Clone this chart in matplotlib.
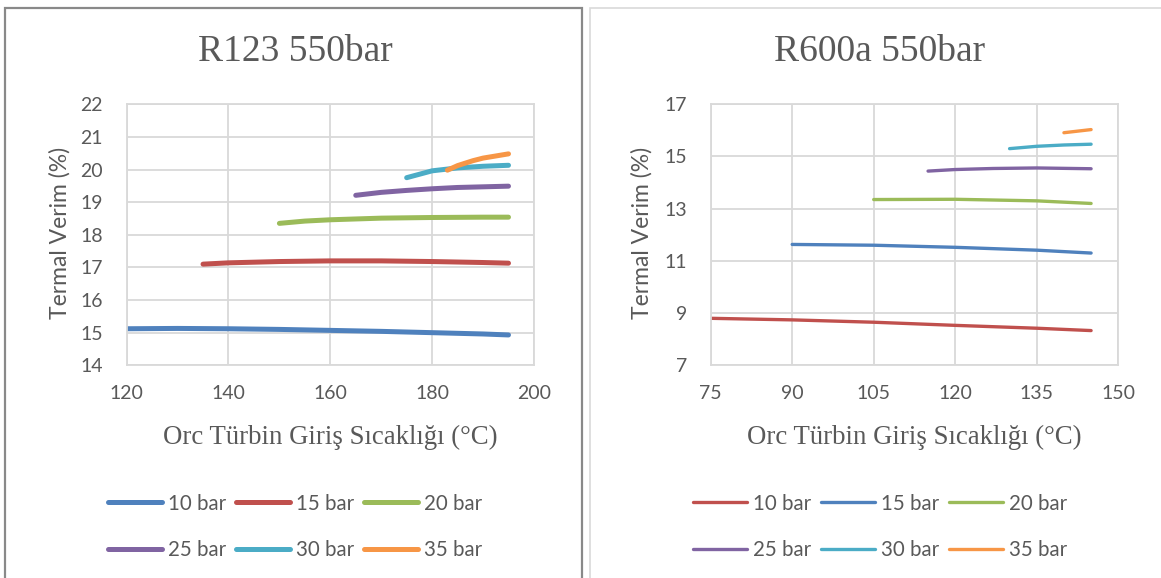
import matplotlib
matplotlib.use("Agg")
import matplotlib.pyplot as plt
from matplotlib.patches import Rectangle

# R123 550bar (left)
r123_t10 = [120, 130, 140, 150, 160, 170, 180, 190, 195]
r123_e10 = [15.12, 15.13, 15.12, 15.10, 15.07, 15.04, 15.00, 14.96, 14.93]
r123_t15 = [135, 140, 150, 160, 170, 180, 190, 195]
r123_e15 = [17.10, 17.14, 17.18, 17.20, 17.20, 17.18, 17.15, 17.13]
r123_t20 = [150, 155, 160, 170, 180, 190, 195]
r123_e20 = [18.35, 18.42, 18.46, 18.51, 18.53, 18.54, 18.54]
r123_t25 = [165, 170, 175, 180, 185, 190, 195]
r123_e25 = [19.21, 19.30, 19.36, 19.41, 19.45, 19.47, 19.49]
r123_t30 = [175, 180, 185, 190, 195]
r123_e30 = [19.75, 19.96, 20.05, 20.10, 20.13]
r123_t35 = [183, 185, 188, 190, 195]
r123_e35 = [19.98, 20.12, 20.27, 20.35, 20.48]

# R600a 550bar (right)
r600_t10 = [75, 90, 105, 120, 135, 145]
r600_e10 = [8.80, 8.74, 8.65, 8.53, 8.42, 8.33]
r600_t15 = [90, 105, 120, 135, 145]
r600_e15 = [11.63, 11.60, 11.52, 11.41, 11.30]
r600_t20 = [105, 120, 135, 145]
r600_e20 = [13.35, 13.36, 13.30, 13.20]
r600_t25 = [115, 120, 127, 135, 145]
r600_e25 = [14.44, 14.50, 14.54, 14.56, 14.53]
r600_t30 = [130, 135, 140, 145]
r600_e30 = [15.30, 15.39, 15.44, 15.47]
r600_t35 = [140, 145]
r600_e35 = [15.91, 16.03]

labels = ["10 bar", "15 bar", "20 bar", "25 bar", "30 bar", "35 bar"]

BLUE, RED, GREEN = "#4F81BD", "#C0504D", "#9BBB59"
PURPLE, CYAN, ORANGE = "#8064A2", "#4BACC6", "#F79646"
GRID = "#D9D9D9"
TXT = "#595959"

SANS = ["Lato", "DejaVu Sans"]
SERIF = ["Liberation Serif", "DejaVu Serif"]

fig = plt.figure(figsize=(11.61, 5.78), dpi=100)

# panel frames
fig.patches.append(Rectangle((5 / 1161, -0.05), 577 / 1161, 1 - 8 / 578 + 0.05,
                             transform=fig.transFigure, fill=False,
                             edgecolor="#898989", lw=1.6))
fig.patches.append(Rectangle((590 / 1161, -0.05), 0.5, 1 - 8 / 578 + 0.05,
                             transform=fig.transFigure, fill=False,
                             edgecolor=GRID, lw=1.2))


def setup(ax, xlim, xticks, ylim, yticks):
    ax.set_xlim(*xlim)
    ax.set_ylim(*ylim)
    ax.set_xticks(xticks)
    ax.set_yticks(yticks)
    ax.grid(True, color=GRID, lw=1.3)
    ax.set_axisbelow(True)
    for s in ax.spines.values():
        s.set_color(GRID)
        s.set_linewidth(1.3)
    ax.tick_params(length=0, labelsize=14, labelcolor=TXT)
    ax.tick_params(axis="y", pad=17)
    ax.tick_params(axis="x", pad=14)
    for lab in ax.get_xticklabels() + ax.get_yticklabels():
        lab.set_family(SANS)


# left chart
ax1 = fig.add_axes([0.1091, 0.3680, 0.3508, 0.4516])
setup(ax1, (120, 200), range(120, 201, 20), (14, 22), range(14, 23))
left = [(r123_t10, r123_e10, BLUE), (r123_t15, r123_e15, RED),
        (r123_t20, r123_e20, GREEN), (r123_t25, r123_e25, PURPLE),
        (r123_t30, r123_e30, CYAN), (r123_t35, r123_e35, ORANGE)]
for (x, y, c), lab in zip(left, labels):
    ax1.plot(x, y, color=c, lw=3.6, solid_capstyle="round", label=lab)

# right chart
ax2 = fig.add_axes([0.6121, 0.3680, 0.3511, 0.4516])
setup(ax2, (75, 150), range(75, 151, 15), (7, 17), range(7, 18, 2))
right = [(r600_t10, r600_e10, RED), (r600_t15, r600_e15, BLUE),
         (r600_t20, r600_e20, GREEN), (r600_t25, r600_e25, PURPLE),
         (r600_t30, r600_e30, CYAN), (r600_t35, r600_e35, ORANGE)]
for (x, y, c), lab in zip(right, labels):
    ax2.plot(x, y, color=c, lw=2.4, solid_capstyle="round", label=lab)

order = [0, 3, 1, 4, 2, 5]  # legend fills column-wise; this gives row order
for ax, cx, ylx, title in [(ax1, 295, 60, "R123 550bar"), (ax2, 880, 642, "R600a 550bar")]:
    fig.text(cx / 1161, 1 - 52 / 578, title, ha="center", va="center",
             fontsize=27, color=TXT, family=SERIF)
    fig.text((ax.get_position().x0 + ax.get_position().x1) / 2, 1 - 437 / 578,
             "Orc Türbin Giriş Sıcaklığı (°C)", ha="center", va="center",
             fontsize=19.3, color=TXT, family=SERIF)
    fig.text(ylx / 1161, 1 - 233 / 578, "Termal Verim (%)", rotation=90,
             ha="center", va="center", fontsize=16.5, color=TXT, family=SANS)
    h, l = ax.get_legend_handles_labels()
    leg = ax.legend([h[i] for i in order], [l[i] for i in order],
                    loc="center", ncol=3, frameon=False,
                    prop={"family": SANS, "size": 14.8}, handlelength=2.6,
                    handletextpad=0.3, columnspacing=0.5, labelspacing=1.3,
                    bbox_to_anchor=(cx / 1161 - 0.3, 1 - 527 / 578 - 0.05, 0.6, 0.1),
                    bbox_transform=fig.transFigure)
    for t in leg.get_texts():
        t.set_color(TXT)

fig.savefig("out.png", dpi=100)
